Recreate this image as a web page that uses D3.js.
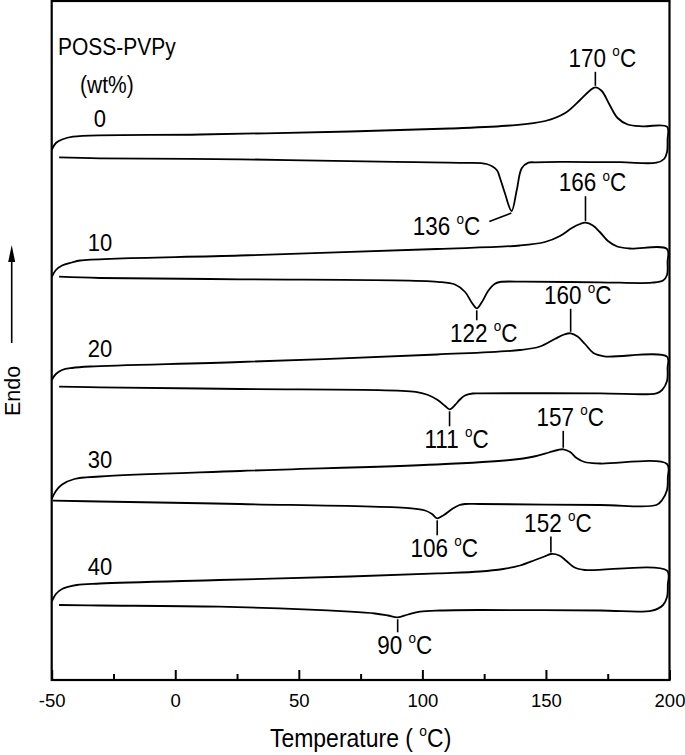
<!DOCTYPE html>
<html>
<head>
<meta charset="utf-8">
<script src="https://cdn.jsdelivr.net/npm/d3@7"></script>
<style>
  html, body { margin: 0; padding: 0; background: #fff; }
  svg { display: block; }
  text { font-family: "Liberation Sans", Arial, sans-serif; fill: #000; }
</style>
</head>
<body>
<svg id="chart" width="685" height="755"></svg>
<script>
// ---------------- data (T in °C, heat flow in arbitrary units) ----------------
const compositions = ["0", "10", "20", "30", "40"];
const meltPeaks  = [170, 166, 160, 157, 152];
const crystPeaks = [136, 122, 111, 106, 90];
const xTicks = [-50, 0, 50, 100, 150, 200];
const xMinorTicks = [-25, 25, 75, 125, 175];

const heat0 = [[-50,53.0],[-48.3,53.7],[-45.8,54.05],[-41.4,54.33],[10,54.55],[70.7,54.85],[111,55.15],[135.5,55.45],[149.7,55.9],[157.8,56.7],[163.8,58.0],[167.8,58.95],[170,59.27],[172.6,58.9],[175.8,57.5],[179,56.2],[183.1,55.55],[189.2,55.37],[199,55.33]];
const cool0 = [[199.2,54.0],[199.0,52.8],[197.8,52.1],[194.7,51.73],[180,51.78],[155.7,51.82],[145.6,51.77],[142.9,51.73],[140.2,51.17],[138.2,49.0],[136.1,46.9],[133.4,48.67],[131.4,50.2],[130.1,51.0],[126,51.6],[115.2,51.72],[82.8,51.83],[26.2,52.07],[-30.5,52.17],[-47,52.27]];

const heat10 = [[-50,40.3],[-48.3,41.0],[-45.8,41.45],[-41.8,41.75],[-38.5,41.95],[26.2,42.45],[105.9,43.1],[139.5,43.45],[149.6,43.8],[155.7,44.4],[160.5,45.2],[163.8,45.6],[166,45.73],[169,45.45],[171.8,44.8],[175.1,43.9],[178.8,43.35],[184,43.15],[199,43.1]];
const cool10 = [[199.2,41.8],[199.0,40.5],[197.4,39.95],[192.9,39.73],[171.9,39.77],[141.5,39.83],[131.4,39.8],[129.2,39.6],[126.6,38.9],[124.1,37.8],[122,37.17],[120.1,37.7],[117.3,38.8],[113.2,39.55],[106.2,39.82],[26.2,40.07],[-30.5,40.2],[-47,40.33]];

const heat20 = [[-50,30.0],[-48.3,30.6],[-45.8,31.0],[-41.8,31.2],[-34.5,31.35],[26.2,31.8],[105.9,32.55],[139.5,33.0],[147.6,33.35],[153.6,34.1],[157.4,34.55],[160,34.67],[162.8,34.35],[165.8,33.6],[169.2,32.7],[173.6,32.37],[199,32.33]];
const cool20 = [[199.2,31.2],[199.0,29.9],[197.0,29.0],[194.7,28.67],[171.9,28.67],[123.3,28.67],[120.3,28.65],[117.2,28.45],[115.0,28.0],[113.2,27.5],[111,27.07],[109.2,27.4],[106.2,28.0],[102.3,28.5],[97.3,28.82],[26.2,29.1],[-30.5,29.27],[-47,29.33]];

const heat30 = [[-50,18.1],[-48.3,18.9],[-45.8,19.55],[-40.8,20.1],[-30.5,20.35],[26.2,20.9],[105.9,21.55],[135.5,22.0],[145.2,22.35],[151.2,22.75],[154.8,23.0],[157,23.07],[159.8,22.8],[162.4,22.2],[165.6,21.8],[172,21.65],[199,21.6]];
const cool30 = [[199.3,20.2],[199.0,19.0],[197.0,18.0],[194.7,17.5],[171.9,17.5],[123.3,17.6],[117.3,17.6],[115.0,17.5],[112.0,17.1],[108.7,16.5],[106,16.17],[103.9,16.6],[101.1,16.95],[95.6,17.17],[26.2,17.6],[-30.5,17.85],[-49.5,17.93]];

const heat40 = [[-50,7.83],[-48.3,8.6],[-45.8,9.1],[-39.9,9.5],[-30.5,9.65],[17.7,10.0],[70.7,10.35],[106.2,10.67],[123.3,10.85],[132.7,11.1],[139.5,11.45],[145.6,12.0],[149.4,12.35],[152,12.6],[155.4,12.45],[158.3,11.9],[161.6,11.25],[165.8,11.0],[199,10.93]];
const cool40 = [[199.3,9.5],[199.0,8.3],[197.4,7.5],[192.9,6.93],[171.9,6.95],[123.9,7.0],[107.1,6.95],[99.0,6.83],[94.2,6.55],[90,6.27],[86.1,6.45],[80.8,6.65],[70.7,6.83],[17.7,7.33],[-30.5,7.45],[-47,7.5]];

const heating = [heat0, heat10, heat20, heat30, heat40];
const cooling = [cool0, cool10, cool20, cool30, cool40];

// ---------------- layout ----------------
const mLeft = 51.7, mRight = 669.5, mTop = 1, mBottom = 680;
const meltLeader = [14, 25, 23, 17, 16];
const crystLeader = [10, 10, 15, 15, 13];
const SY = 1.12; // vertical stretch of the lettering

const svg = d3.select("#chart");
const x = d3.scaleLinear().domain([-50, 200]).range([mLeft, mRight]);
const y = d3.scaleLinear().domain([0, 67.9]).range([mBottom, mTop]);

const FONT = '"Liberation Sans", Arial, sans-serif';

// curves
const line = d3.line().x(d => x(d[0])).y(d => y(d[1])).curve(d3.curveCatmullRom.alpha(0.5));
const curvesG = svg.append("g");
heating.forEach((h, i) => {
  curvesG.append("path")
    .attr("d", line(h.concat(cooling[i])))
    .attr("fill", "none").attr("stroke", "#000").attr("stroke-width", 1.8)
    .attr("stroke-linejoin", "round");
});

// frame
svg.append("rect").attr("x", mLeft).attr("y", mTop).attr("width", mRight - mLeft).attr("height", mBottom - mTop)
  .attr("fill", "none").attr("stroke", "#000").attr("stroke-width", 2.2);

// x axis
const ax = svg.append("g").attr("transform", `translate(0,${mBottom})`)
  .call(d3.axisBottom(x).tickValues(xTicks).tickSize(-10).tickPadding(13.5).tickFormat(d => String(d)));
ax.select(".domain").remove();
ax.selectAll("line").attr("stroke-width", 2);
ax.selectAll("text").attr("font-size", "18.5px").attr("font-family", FONT);
const axm = svg.append("g").attr("transform", `translate(0,${mBottom})`)
  .call(d3.axisBottom(x).tickValues(xMinorTicks).tickSize(-6).tickFormat(""));
axm.select(".domain").remove();
axm.selectAll("line").attr("stroke-width", 2);

// plain stretched text
function sText(g, xPos, yPos, str, size, anchor) {
  return g.append("text").attr("transform", `translate(${xPos},${yPos}) scale(1,${SY})`)
    .attr("font-size", size + "px").attr("text-anchor", anchor || "start").text(str);
}
// text with superscript "o" before C
function degText(g, xPos, yPos, prefix, suffix, size, anchor) {
  const t = g.append("text").attr("transform", `translate(${xPos},${yPos}) scale(1,${SY})`)
    .attr("font-size", size + "px").attr("text-anchor", anchor || "middle");
  t.append("tspan").text(prefix);
  t.append("tspan").attr("font-size", (size * 0.6) + "px").attr("dy", -size * 0.42).text("o");
  t.append("tspan").attr("dy", size * 0.42).text("C" + (suffix || ""));
  return t;
}

function valueAt(arr, T) {
  for (let k = 0; k < arr.length - 1; k++) {
    const a = arr[k], b = arr[k + 1];
    if ((a[0] - T) * (b[0] - T) <= 0) {
      const f = (T - a[0]) / (b[0] - a[0]);
      return a[1] + f * (b[1] - a[1]);
    }
  }
  return arr[0][1];
}

const ann = svg.append("g");
heating.forEach((h, i) => {
  // composition label
  sText(ann, x(-30.5), y(valueAt(h, -30.5)) - 9, compositions[i], 22, "middle");

  // melting peak
  const mp = meltPeaks[i];
  const pk = h.filter(d => Math.abs(d[0] - mp) < 3).reduce((a, b) => (b[1] > a[1] ? b : a));
  const px = x(mp), py = y(pk[1]) - 1.5;
  ann.append("line").attr("x1", px).attr("x2", px).attr("y1", py).attr("y2", py - meltLeader[i])
    .attr("stroke", "#000").attr("stroke-width", 1.6);
  degText(ann, px + 7, py - meltLeader[i] - 5, mp + " ", "", 22.5, "middle");

  // crystallization dip
  const cp = crystPeaks[i];
  const c = cooling[i];
  const dp = c.filter(d => Math.abs(d[0] - cp) < 3).reduce((a, b) => (b[1] < a[1] ? b : a));
  const cx = x(cp), cy = y(dp[1]) + 2;
  if (i === 0) {
    ann.append("line").attr("x1", cx).attr("y1", cy).attr("x2", cx - 22).attr("y2", cy + 8.5)
      .attr("stroke", "#000").attr("stroke-width", 1.6);
    degText(ann, cx - 31, cy + 22, cp + " ", "", 22.5, "end");
  } else {
    ann.append("line").attr("x1", cx).attr("x2", cx).attr("y1", cy).attr("y2", cy + crystLeader[i])
      .attr("stroke", "#000").attr("stroke-width", 1.6);
    degText(ann, cx + 7, cy + crystLeader[i] + 21.5, cp + " ", "", 22.5, "middle");
  }
});

// legend title
sText(ann, 58, 55, "POSS-PVPy", 21, "start");
sText(ann, 80, 93, "(wt%)", 21, "start");

// x title
degText(svg, (mLeft + mRight) / 2, 747, "Temperature ( ", ")", 23, "middle");

// y label with arrow
svg.append("text").attr("transform", `translate(19.5,391) rotate(-90)`)
  .attr("font-size", "21.5px").attr("text-anchor", "middle").text("Endo");
svg.append("line").attr("x1", 11.7).attr("x2", 11.7).attr("y1", 343).attr("y2", 258)
  .attr("stroke", "#000").attr("stroke-width", 1.6);
svg.append("path").attr("d", "M11.7,245 L15.2,262 L8.2,262 Z").attr("fill", "#000");
</script>
</body>
</html>
